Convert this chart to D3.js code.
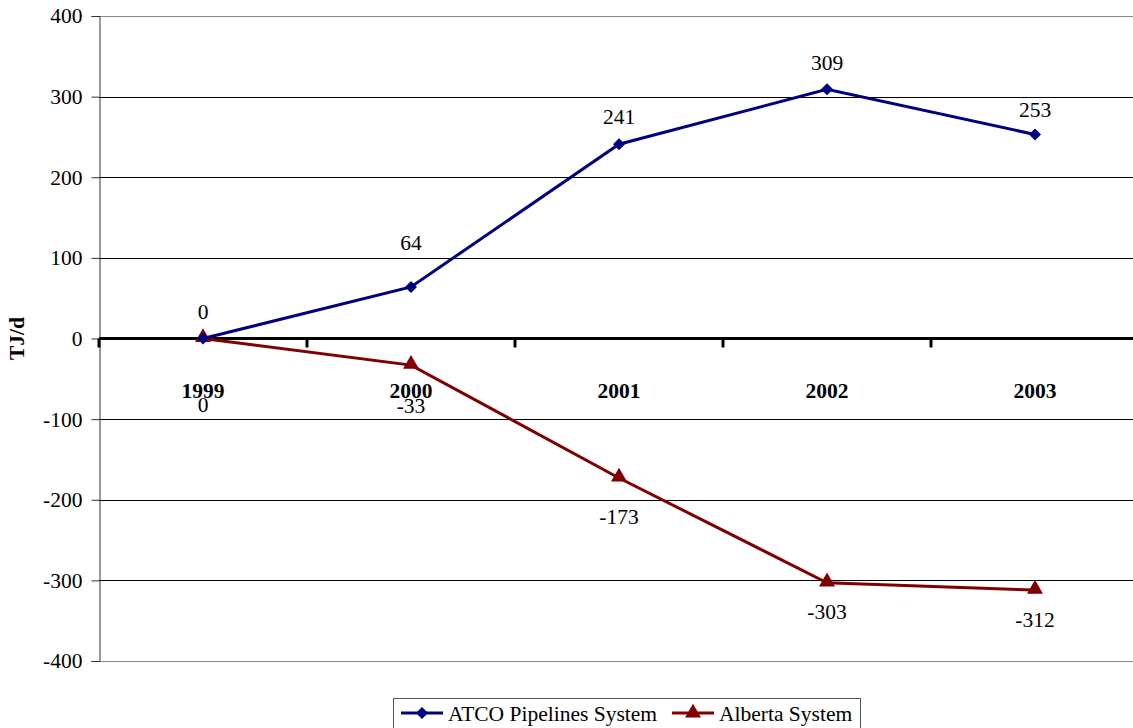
<!DOCTYPE html>
<html>
<head>
<meta charset="utf-8">
<script src="https://cdnjs.cloudflare.com/ajax/libs/d3/7.8.5/d3.min.js"></script>
<style>
  body { margin: 0; background: #fff; }
  svg text { font-family: "Liberation Serif", "Times New Roman", "DejaVu Serif", serif; }
</style>
</head>
<body>
<script>
const years = ['1999', '2000', '2001', '2002', '2003'];
const atco = [0, 64, 241, 309, 253];
const alberta = [0, -33, -173, -303, -312];
const yTicks = [400, 300, 200, 100, 0, -100, -200, -300, -400];

// label nudges (pixels)
const atcoLabelDy = [-27, -44, -28, -27, -25];
const albertaLabelDy = [66, 40, 38, 29, 29];

const width = 1133;
const height = 728;
const fontSize = 21.5;

const svg = d3.select('body')
  .append('svg')
    .attr('width', width)
    .attr('height', height);

const xScale = d3.scaleBand()
  .domain(years)
  .range([99, 1139]);

const yScale = d3.scaleLinear()
  .domain([-400, 400])
  .range([661, 16]);

const xc = d => xScale(d) + xScale.bandwidth() / 2;

// gridlines
svg.append('g')
  .selectAll('line')
  .data(yTicks.filter(d => d !== 0))
  .enter()
  .append('line')
    .attr('x1', 99)
    .attr('x2', width)
    .attr('y1', d => Math.round(yScale(d)) + 0.5)
    .attr('y2', d => Math.round(yScale(d)) + 0.5)
    .attr('stroke', d => Math.abs(d) === 400 ? '#888' : '#000')
    .attr('stroke-width', 1);

// y axis
const yAxis = d3.axisLeft(yScale)
  .tickValues(yTicks)
  .tickSize(8)
  .tickPadding(9)
  .tickFormat(d => String(d));

svg.append('g')
  .attr('transform', 'translate(99.5,0)')
  .call(yAxis)
  .attr('font-family', null)
  .call(g => g.select('.domain').attr('stroke', '#333'))
  .call(g => g.selectAll('.tick line').attr('stroke', '#333'))
  .call(g => g.selectAll('.tick text')
    .attr('font-size', fontSize)
    .attr('fill', '#000'));

// zero axis with category ticks
svg.append('line')
  .attr('x1', 99)
  .attr('x2', width)
  .attr('y1', yScale(0))
  .attr('y2', yScale(0))
  .attr('stroke', '#000')
  .attr('stroke-width', 3);

svg.append('g')
  .selectAll('line')
  .data(years)
  .enter()
  .append('line')
    .attr('x1', d => xScale(d))
    .attr('x2', d => xScale(d))
    .attr('y1', yScale(0))
    .attr('y2', yScale(0) + 9)
    .attr('stroke', '#000')
    .attr('stroke-width', 3);

svg.append('g')
  .selectAll('text')
  .data(years)
  .enter()
  .append('text')
    .attr('x', d => xc(d))
    .attr('y', 398)
    .attr('text-anchor', 'middle')
    .attr('font-size', fontSize)
    .attr('font-weight', 'bold')
    .text(d => d);

// y title
svg.append('text')
  .attr('transform', `translate(24,${yScale(0)}) rotate(-90)`)
  .attr('text-anchor', 'middle')
  .attr('font-size', fontSize)
  .attr('font-weight', 'bold')
  .text('TJ/d');

const line = d3.line()
  .x((d, i) => xc(years[i]))
  .y(d => yScale(d));

const diamond = d3.symbol().type(d3.symbolSquare).size(72);
const triangle = d3.symbol().type(d3.symbolTriangle).size(110);

// Alberta series
svg.append('path')
  .datum(alberta)
  .attr('d', line)
  .attr('fill', 'none')
  .attr('stroke', '#800000')
  .attr('stroke-width', 3);

svg.append('g')
  .selectAll('path')
  .data(alberta)
  .enter()
  .append('path')
    .attr('d', triangle)
    .attr('transform', (d, i) => `translate(${xc(years[i])},${yScale(d) - 1})`)
    .attr('fill', '#800000');

// ATCO series
svg.append('path')
  .datum(atco)
  .attr('d', line)
  .attr('fill', 'none')
  .attr('stroke', '#000080')
  .attr('stroke-width', 3);

svg.append('g')
  .selectAll('path')
  .data(atco)
  .enter()
  .append('path')
    .attr('d', diamond)
    .attr('transform', (d, i) => `translate(${xc(years[i])},${yScale(d)}) rotate(45)`)
    .attr('fill', '#000080');

// data labels
svg.append('g')
  .selectAll('text')
  .data(atco)
  .enter()
  .append('text')
    .attr('x', (d, i) => xc(years[i]))
    .attr('y', (d, i) => yScale(d) + atcoLabelDy[i])
    .attr('dy', '0.35em')
    .attr('text-anchor', 'middle')
    .attr('font-size', fontSize)
    .text(d => d);

svg.append('g')
  .selectAll('text')
  .data(alberta)
  .enter()
  .append('text')
    .attr('x', (d, i) => xc(years[i]))
    .attr('y', (d, i) => yScale(d) + albertaLabelDy[i])
    .attr('dy', '0.35em')
    .attr('text-anchor', 'middle')
    .attr('font-size', fontSize)
    .text(d => d);

// legend
const legend = svg.append('g');
legend.append('rect')
  .attr('x', 393.5)
  .attr('y', 698.5)
  .attr('width', 467)
  .attr('height', 40)
  .attr('fill', '#fff')
  .attr('stroke', '#555')
  .attr('stroke-width', 1);

const legendItems = [
  { name: 'ATCO Pipelines System', color: '#000080', sym: diamond, rot: 45, x: 401 },
  { name: 'Alberta System', color: '#800000', sym: triangle, rot: 0, x: 672 }
];

legendItems.forEach(item => {
  const g = legend.append('g').attr('transform', `translate(${item.x},713)`);
  g.append('line')
    .attr('x1', 0)
    .attr('x2', 42)
    .attr('stroke', item.color)
    .attr('stroke-width', 3);
  g.append('path')
    .attr('d', item.sym)
    .attr('transform', `translate(21,0) rotate(${item.rot})`)
    .attr('fill', item.color);
  g.append('text')
    .attr('x', 47)
    .attr('dy', '0.35em')
    .attr('font-size', fontSize)
    .text(item.name);
});
</script>
</body>
</html>
